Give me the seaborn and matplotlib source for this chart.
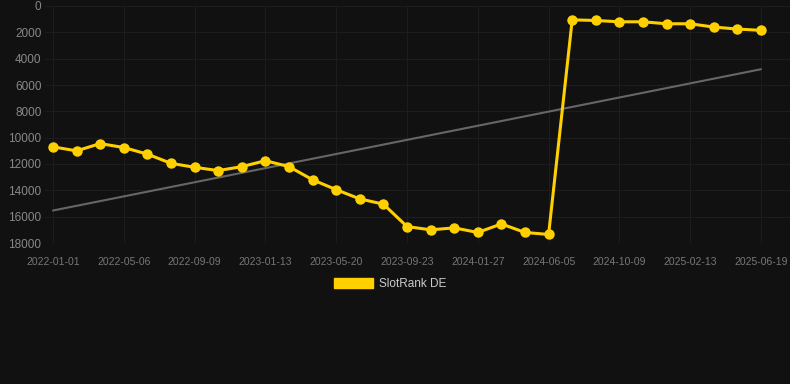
import pandas as pd
import seaborn as sns
import matplotlib.pyplot as plt
import matplotlib.dates as mdates
from matplotlib.patches import Patch
import numpy as np

# Data
start_date = '2022-01-01'
end_date = '2025-06-19'
ranks = [10700, 11000, 10450, 10750, 11250, 11950, 12250, 12500, 12200, 11750,
         12200, 13200, 13950, 14650, 15050, 16750, 17000, 16850, 17200, 16550,
         17200, 17350, 1050, 1100, 1200, 1200, 1350, 1350, 1600, 1750, 1850]
tick_labels = ['2022-01-01', '2022-05-06', '2022-09-09', '2023-01-13', '2023-05-20',
               '2023-09-23', '2024-01-27', '2024-06-05', '2024-10-09', '2025-02-13',
               '2025-06-19']
y_ticks = [0, 2000, 4000, 6000, 8000, 10000, 12000, 14000, 16000, 18000]

dates = pd.date_range(start_date, end_date, periods=len(ranks))
df = pd.DataFrame({'date': dates, 'rank': ranks})

# Linear trend over the series
idx = np.arange(len(df))
slope, intercept = np.polyfit(idx, df['rank'], 1)
df['trend'] = slope * idx + intercept

sns.set_style('dark')
plt.rcParams['font.family'] = ['Liberation Sans', 'DejaVu Sans']

bg = '#111111'
gold = '#FFD000'

fig = plt.figure(figsize=(7.9, 3.84), dpi=100, facecolor=bg)
ax = fig.add_axes([45 / 790, 1 - 243 / 384, 745 / 790, 237 / 384])
ax.set_facecolor(bg)

sns.lineplot(data=df, x='date', y='trend', ax=ax, color='#666666', linewidth=1.5)
sns.lineplot(data=df, x='date', y='rank', ax=ax, color=gold, linewidth=2.2,
             marker='o', markersize=7.5, markeredgewidth=0, markeredgecolor=gold)

# x limits with the same padding as the reference
x0 = mdates.date2num(dates[0])
x1 = mdates.date2num(dates[-1])
span = x1 - x0
ax.set_xlim(x0 - span * 8 / 708, x1 + span * 29 / 708)
ax.set_ylim(18000, 0)

ax.set_xticks(np.linspace(x0, x1, len(tick_labels)))
ax.set_xticklabels(tick_labels)
ax.set_yticks(y_ticks)
ax.set_yticklabels([str(v) for v in y_ticks])

ax.tick_params(axis='x', colors='#777777', labelsize=7.5, length=5, width=0.8, pad=5)
ax.tick_params(axis='x', which='both', color='#1e1e1e')
ax.tick_params(axis='y', colors='#888888', labelsize=8.5, length=0, pad=2.5)

ax.grid(True, color='#1d1d1d', linewidth=0.8)
for s in ax.spines.values():
    s.set_visible(False)
ax.set_xlabel('')
ax.set_ylabel('')

handles = [Patch(facecolor=gold, edgecolor=gold)]
fig.legend(handles, ['SlotRank DE'], loc='center', bbox_to_anchor=(390 / 790, 1 - 284 / 384),
           frameon=False, fontsize=8.5, labelcolor='#cccccc', handlelength=3.3,
           handleheight=0.9, handletextpad=0.5)

fig.savefig('out.png', dpi=100, facecolor=bg)
